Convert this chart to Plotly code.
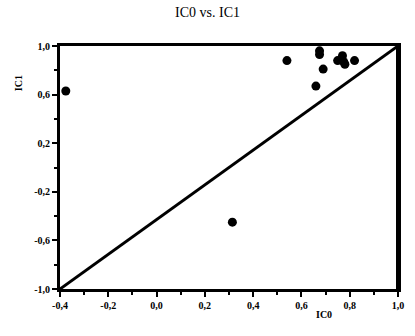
import plotly.graph_objects as go

# IC0 / IC1 values
ic0 = [-0.376, 0.314, 0.54, 0.66, 0.675, 0.675, 0.69, 0.75, 0.77, 0.775, 0.78, 0.82]
ic1 = [0.63, -0.45, 0.88, 0.67, 0.96, 0.93, 0.81, 0.88, 0.92, 0.87, 0.85, 0.88]

# reference diagonal
diag_x = [-0.4, 1.0]
diag_y = [-1.0, 1.0]

x_ticks = [-0.4, -0.2, 0.0, 0.2, 0.4, 0.6, 0.8, 1.0]
x_labels = ["-0,4", "-0,2", "0,0", "0,2", "0,4", "0,6", "0,8", "1,0"]
y_ticks = [1.0, 0.6, 0.2, -0.2, -0.6, -1.0]
y_labels = ["1,0", "0,6", "0,2", "-0,2", "-0,6", "-1,0"]

FONT = "Liberation Serif, Times New Roman, serif"

fig = go.Figure()
fig.add_trace(go.Scatter(
    x=diag_x, y=diag_y, mode="lines",
    line=dict(color="black", width=3), hoverinfo="skip"
))
fig.add_trace(go.Scatter(
    x=ic0, y=ic1, mode="markers",
    marker=dict(color="black", size=9)
))

axis_common = dict(
    showgrid=False, zeroline=False, showline=True, linecolor="black",
    linewidth=3, mirror=True, ticks="outside", ticklen=5, tickwidth=2,
    tickcolor="black",
    tickfont=dict(family=FONT, size=10, color="black", weight="bold"),
    minor=dict(ticks="outside", ticklen=3, tickwidth=2, tickcolor="black"),
)

fig.update_xaxes(
    range=[-0.4, 1.0], tickvals=x_ticks, ticktext=x_labels,
    minor_dtick=0.1, **axis_common
)
fig.update_yaxes(
    range=[-1.0, 1.0], tickvals=y_ticks, ticktext=y_labels,
    minor_dtick=0.2, **axis_common
)

# heavy right edge of the frame, as in the scan
fig.add_vline(x=diag_x[-1], line=dict(color="black", width=4), layer="above")

fig.update_layout(
    width=415, height=336,
    margin=dict(l=60, r=11, t=46, b=47),
    plot_bgcolor="white", paper_bgcolor="white",
    showlegend=False,
    font=dict(family=FONT, color="black"),
    title=dict(text="IC0 vs. IC1", x=0.5, xanchor="center", y=0.965,
               yanchor="middle", font=dict(family=FONT, size=14)),
    annotations=[
        dict(text="IC1", textangle=-90, xref="paper", yref="paper",
             x=-0.145, y=0.89, showarrow=False,
             font=dict(family=FONT, size=10, weight="bold")),
        dict(text="IC0", xref="paper", yref="paper", x=0.81, y=-0.136,
             showarrow=False, font=dict(family=FONT, size=10, weight="bold")),
    ],
)

fig.write_html(
    "out.html",
    config={"displayModeBar": False},
    post_script="document.body.style.margin='0px';document.documentElement.style.overflow='hidden';",
)
